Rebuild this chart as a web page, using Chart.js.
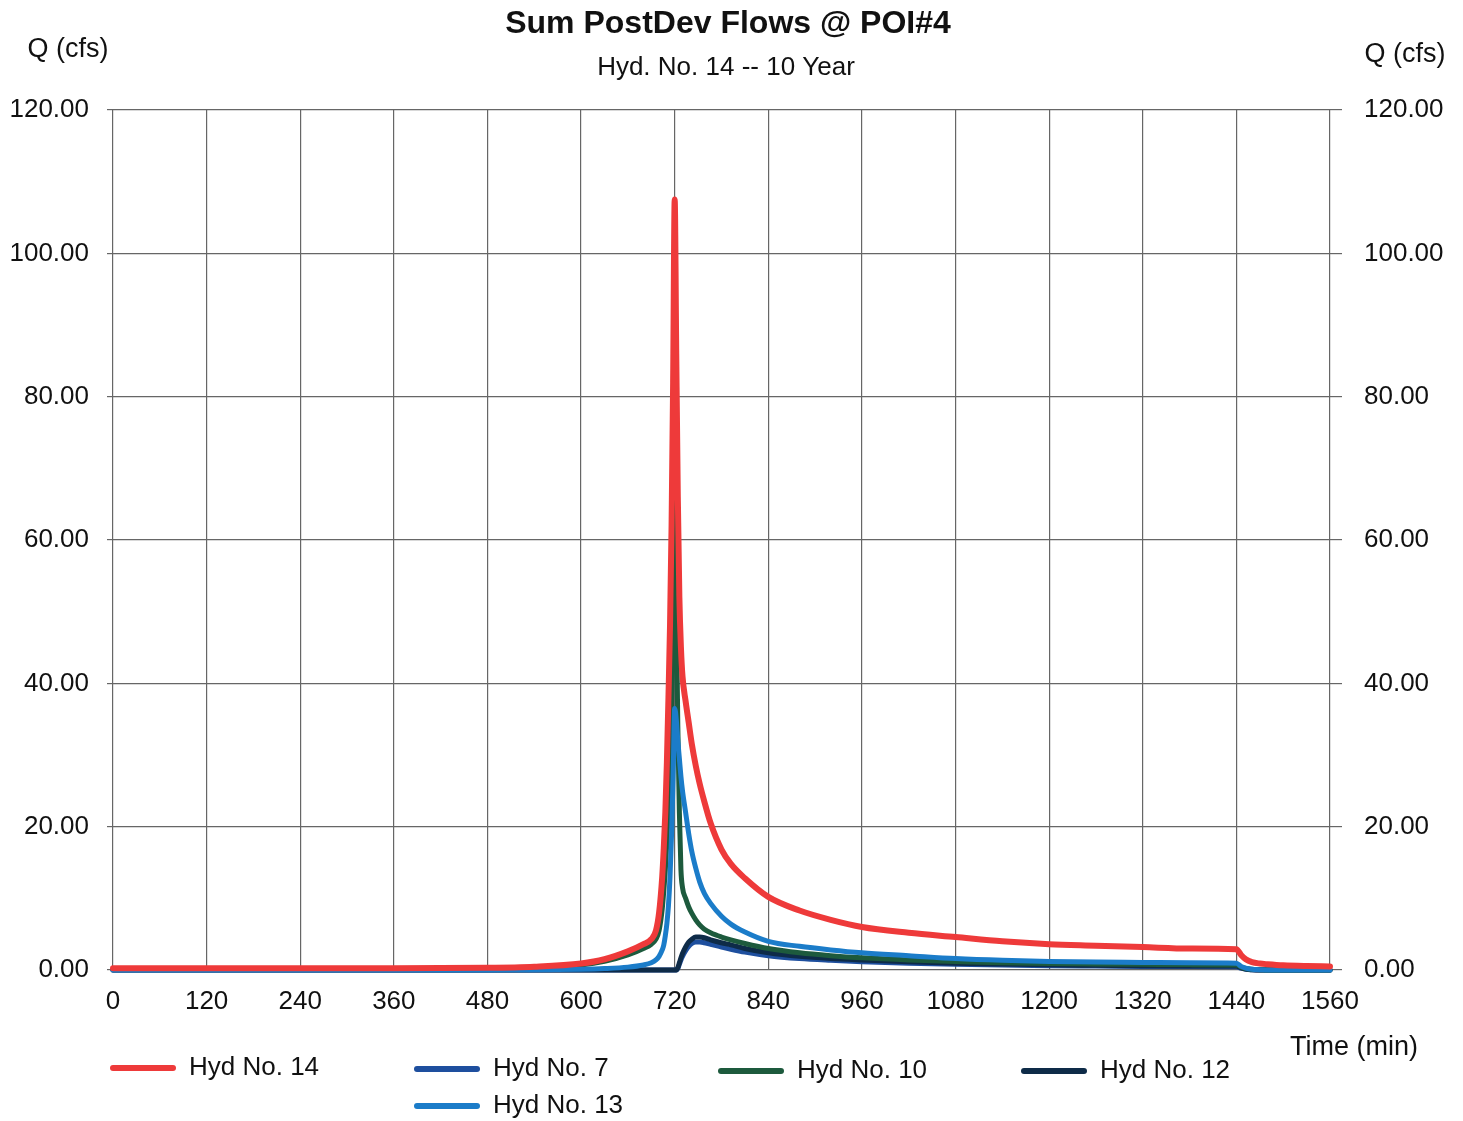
<!DOCTYPE html>
<html>
<head>
<meta charset="utf-8">
<title>Sum PostDev Flows @ POI#4</title>
<script src="https://cdn.jsdelivr.net/npm/chart.js@4.4.1/dist/chart.umd.min.js"></script>
<style>
  html, body { margin: 0; padding: 0; background: #fff; }
  #wrap { width: 1463px; height: 1121px; }
</style>
</head>
<body>
<div id="wrap"><canvas id="hydroChart" width="1463" height="1121"></canvas></div>
<script>
// time (min) shared by every hydrograph
const times = [0, 120, 240, 360, 480, 540, 600, 630, 660, 680,
  690, 696, 700, 704, 706, 708, 710, 712, 714, 716,
  718, 720, 722, 724, 726, 728, 730, 734, 738, 742,
  747, 752, 758, 766, 780, 792, 810, 840, 880, 920,
  960, 1020, 1080, 1140, 1200, 1260, 1320, 1380, 1440, 1446,
  1452, 1460, 1470, 1480, 1500, 1530, 1560];

// flows (cfs)
const hyd14 = [0.25, 0.25, 0.25, 0.25, 0.3, 0.45, 0.9, 1.5, 2.6, 3.6,
  4.3, 5.5, 8, 13, 17, 22, 29, 38, 48, 62,
  82, 107.5, 86, 66, 52, 45, 41, 37.5, 34.5, 31.5,
  28.5, 26, 23.5, 20.5, 16.8, 14.8, 12.8, 10.2, 8.3, 7,
  6, 5.2, 4.6, 4.0, 3.6, 3.4, 3.2, 3.0, 2.9, 2.1,
  1.5, 1.1, 0.9, 0.8, 0.65, 0.55, 0.5];

const hyd7 = [0, 0, 0, 0, 0, 0, 0, 0, 0, 0,
  0, 0, 0, 0, 0, 0, 0, 0, 0, 0,
  0, 0, 0, 0.2, 0.8, 1.4, 1.9, 2.7, 3.3, 3.7,
  3.9, 3.9, 3.8, 3.6, 3.2, 2.9, 2.5, 2.0, 1.6, 1.35,
  1.15, 0.95, 0.8, 0.7, 0.6, 0.55, 0.5, 0.48, 0.45, 0.25,
  0.1, 0.03, 0, 0, 0, 0, 0];

const hyd10 = [0.1, 0.1, 0.1, 0.1, 0.15, 0.3, 0.7, 1.2, 2.1, 3.0,
  3.6, 4.3, 5.5, 8.5, 11, 14, 18, 23, 29, 37,
  50, 70, 52, 34, 22, 14, 11.5, 10, 8.8, 7.9,
  7, 6.3, 5.7, 5.2, 4.6, 4.2, 3.7, 3.0, 2.4, 2.0,
  1.7, 1.4, 1.2, 1.0, 0.9, 0.85, 0.8, 0.75, 0.7, 0.4,
  0.2, 0.1, 0.05, 0, 0, 0, 0];

const hyd12 = [0, 0, 0, 0, 0, 0, 0, 0, 0, 0,
  0, 0, 0, 0, 0, 0, 0, 0, 0, 0,
  0, 0, 0, 0.3, 1.0, 1.7, 2.3, 3.2, 3.9, 4.3,
  4.6, 4.6, 4.5, 4.2, 3.8, 3.5, 3.0, 2.4, 1.9, 1.6,
  1.4, 1.15, 0.95, 0.82, 0.72, 0.66, 0.6, 0.57, 0.55, 0.3,
  0.12, 0.04, 0, 0, 0, 0, 0];

const hyd13 = [0, 0, 0, 0, 0, 0.02, 0.1, 0.2, 0.4, 0.7,
  1.0, 1.4, 1.9, 2.8, 3.5, 4.8, 6.5, 9, 13, 19,
  27, 36.5, 35, 32, 29.5, 27, 25, 22, 19, 16.5,
  14.2, 12.3, 10.7, 9.3, 7.5, 6.4, 5.3, 4.0, 3.3, 2.8,
  2.4, 2.0, 1.6, 1.35, 1.2, 1.1, 1.05, 1.0, 0.95, 0.5,
  0.25, 0.1, 0.05, 0, 0, 0, 0];

const seriesNames = ['Hyd No. 14', 'Hyd No. 7', 'Hyd No. 10', 'Hyd No. 12', 'Hyd No. 13'];
const xTickStep = 120;
const yTickStep = 20;

const toPoints = vals => vals.map((v, i) => ({ x: times[i], y: v }));

const FONT = 'Liberation Sans, Arial, sans-serif';
const GRID = '#666';

// titles, axis captions and the legend are laid out by hand
const annotations = {
  id: 'annotations',
  afterDraw(chart) {
    const ctx = chart.ctx;
    ctx.save();
    ctx.fillStyle = '#111';
    ctx.textBaseline = 'middle';

    ctx.textAlign = 'center';
    ctx.font = `bold 32px ${FONT}`;
    ctx.fillText('Sum PostDev Flows @ POI#4', 728, 24);
    ctx.font = `26px ${FONT}`;
    ctx.fillText('Hyd. No. 14 -- 10 Year', 726, 68);

    ctx.font = `27px ${FONT}`;
    ctx.fillText('Q (cfs)', 68, 50);
    ctx.fillText('Q (cfs)', 1405, 55);
    ctx.fillText('Time (min)', 1354, 1048);

    // legend: 4 columns, 5th item wraps under the 2nd
    ctx.font = `26px ${FONT}`;
    const slots = [[110, 1068], [414, 1069], [718, 1071], [1021, 1071], [414, 1106]];
    chart.data.datasets.forEach((ds, i) => {
      const [lx, ly] = slots[i];
      ctx.strokeStyle = ds.borderColor;
      ctx.lineWidth = 6;
      ctx.lineCap = 'round';
      ctx.beginPath();
      ctx.moveTo(lx + 3, ly);
      ctx.lineTo(lx + 63, ly);
      ctx.stroke();
      ctx.textAlign = 'left';
      ctx.fillText(ds.label, lx + 79, ly);
    });
    ctx.restore();
  }
};

const ctx = document.getElementById('hydroChart').getContext('2d');
new Chart(ctx, {
  type: 'line',
  data: {
    // lower order is painted on top: red sum, then Hyd 13 over Hyd 10
    datasets: [
      { label: seriesNames[0], data: toPoints(hyd14), borderColor: '#ee3a3a', borderWidth: 6, order: 0 },
      { label: seriesNames[1], data: toPoints(hyd7),  borderColor: '#1e4f9e', borderWidth: 5, order: 4 },
      { label: seriesNames[2], data: toPoints(hyd10), borderColor: '#1d5a3d', borderWidth: 5, order: 2 },
      { label: seriesNames[3], data: toPoints(hyd12), borderColor: '#0e2b48', borderWidth: 5, order: 3 },
      { label: seriesNames[4], data: toPoints(hyd13), borderColor: '#1b7cc9', borderWidth: 5, order: 1 }
    ].map(ds => Object.assign(ds, {
      fill: false,
      pointRadius: 0,
      cubicInterpolationMode: 'monotone',
      clip: 8,
      borderJoinStyle: 'round',
      borderCapStyle: 'round'
    }))
  },
  options: {
    responsive: false,
    animation: false,
    layout: { padding: { top: 110, bottom: 0, left: 0, right: 0 } },
    plugins: {
      legend: { display: false },
      title: { display: false },
      tooltip: { enabled: false }
    },
    scales: {
      x: {
        type: 'linear',
        min: 0,
        max: 1560,
        afterFit: s => { s.height = 151; },
        ticks: {
          stepSize: xTickStep,
          color: '#111',
          font: { family: FONT, size: 26 },
          padding: 16,
          maxRotation: 0,
          callback: v => String(v)
        },
        grid: { color: GRID, lineWidth: 1.2, drawTicks: false },
        border: { display: false }
      },
      y: {
        position: 'left',
        min: 0,
        max: 120,
        afterFit: s => { s.width = 113; },
        ticks: {
          stepSize: yTickStep,
          color: '#111',
          font: { family: FONT, size: 26 },
          padding: 18,
          callback: v => v.toFixed(2)
        },
        grid: { color: GRID, lineWidth: 1.2, drawTicks: true, tickLength: 6 },
        border: { display: false }
      },
      y2: {
        position: 'right',
        min: 0,
        max: 120,
        afterFit: s => { s.width = 133; },
        ticks: {
          stepSize: yTickStep,
          color: '#111',
          font: { family: FONT, size: 26 },
          padding: 22,
          callback: v => v.toFixed(2)
        },
        grid: { color: GRID, lineWidth: 1.2, drawOnChartArea: false, drawTicks: true, tickLength: 12 },
        border: { display: false }
      }
    }
  },
  plugins: [annotations]
});
</script>
</body>
</html>
